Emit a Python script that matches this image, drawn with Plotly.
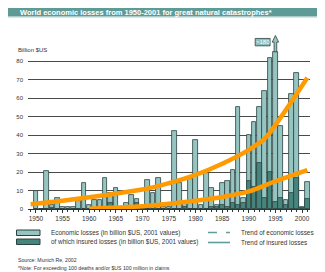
import plotly.graph_objects as go

# ---------------- data ----------------
years = list(range(1950, 2002))
economic = [10, 0, 20.7, 2.3, 6, 1, 1, 1, 4.3, 14,          # 1950-1959
            2.3, 5, 5, 17, 8.6, 11.5, 0, 3.2, 7.7, 5.6,      # 1960-1969
            1, 15.8, 8.6, 16.8, 1, 1, 42.3, 14, 4, 16,       # 1970-1979
            37.5, 2, 19.5, 11.3, 2, 14, 15, 21, 55, 6,       # 1980-1989
            40, 47, 55, 64, 81.6, 180, 45, 5, 62, 73.5,      # 1990-1999
            1, 14.6]                                         # 2000-2001
insured = [0, 0, 0, 0.5, 0, 0, 0, 0, 0, 0,
           0, 0, 0, 0, 3, 1, 0, 0, 0, 3,
           0, 0, 0, 0, 0, 0, 0, 0, 1, 0,
           0, 0, 0, 1, 1, 2, 1, 3, 2, 3,
           15, 12, 25, 6, 20, 4, 6, 2, 8.6, 17,
           0.5, 5.4]

trend_econ_years = [1949, 1955, 1960, 1965, 1970, 1975, 1980, 1985, 1990, 1993, 2001]
trend_econ = [2.6, 4.5, 6.3, 8.3, 10.5, 14, 18.5, 24.5, 32, 38, 71]
trend_ins_years = [1960, 1965, 1970, 1975, 1980, 1985, 1990, 1995, 2001]
trend_ins = [0.2, 0.8, 1.5, 2.8, 4.5, 6.5, 9.5, 15, 21]

y_ticks = [0, 10, 20, 30, 40, 50, 60, 70, 80]
x_ticks = [1950, 1955, 1960, 1965, 1970, 1975, 1980, 1985, 1990, 1995, 2000]
CAP = 85            # bars above this are clipped and marked with an arrow
OVER_LABEL = ">180"

# ---------------- styling ----------------
W, H = 325, 272
L, R, T, B = 20, 23, 20, 71
Y_TOP = (H - B - T) / 1.85
FONT = "Liberation Sans Narrow, Arial Narrow, Liberation Sans, sans-serif"
LIGHT = "#96c4c1"
DARK = "#46857e"
EDGE = "#2c4240"
ORANGE = "#ff9a00"
TEAL = "#5f9f9a"


def px(x):
    return (x - L) / (W - L - R)


def py(y):
    return (H - B - y) / (H - T - B)


econ_disp = [min(v, CAP) for v in economic]

fig = go.Figure()
fig.add_trace(go.Bar(x=years, y=econ_disp, width=0.86,
                     marker=dict(color=LIGHT, line=dict(color=EDGE, width=0.8)),
                     showlegend=False, hoverinfo="x+y"))
fig.add_trace(go.Bar(x=years, y=insured, width=0.86,
                     marker=dict(color=DARK, line=dict(color=EDGE, width=0.8)),
                     showlegend=False))
fig.add_trace(go.Scatter(x=trend_econ_years, y=trend_econ, mode="lines",
                         line=dict(color=ORANGE, width=4.5, shape="spline", smoothing=0.6),
                         showlegend=False))
fig.add_trace(go.Scatter(x=trend_ins_years, y=trend_ins, mode="lines",
                         line=dict(color=ORANGE, width=4.5, shape="spline", smoothing=0.6),
                         showlegend=False))

shapes = []
ann = []

# title band
shapes.append(dict(type="rect", xref="paper", yref="paper", x0=px(0), x1=px(W),
                   y0=py(0), y1=py(8.5), fillcolor="#5e9b97", line=dict(width=0), layer="above"))
shapes.append(dict(type="line", xref="paper", yref="paper", x0=px(0), x1=px(W),
                   y0=py(9), y1=py(9), line=dict(color="#a9cbc8", width=1)))
ann.append(dict(text="<b>World economic losses from 1950-2001 for great natural catastrophes*</b>",
                xref="paper", yref="paper", x=px(10), y=py(4.5), xanchor="left", yanchor="middle",
                showarrow=False, font=dict(family=FONT, size=7.5, color="white")))

# bottom rule
shapes.append(dict(type="line", xref="paper", yref="paper", x0=px(0), x1=px(W),
                   y0=py(269.5), y1=py(269.5), line=dict(color="#78a7a3", width=2.5)))

# axis unit label
ann.append(dict(text="Billion $US", xref="paper", yref="paper", x=px(8), y=py(42),
                xanchor="left", yanchor="middle", showarrow=False,
                font=dict(family=FONT, size=6, color="#333")))

# overflow arrow for the clipped bar
for yr, v in zip(years, economic):
    if v > CAP:
        hw = 0.25
        path = (f"M {yr - hw} {CAP} L {yr - hw} {CAP + 5.2} L {yr - 0.6} {CAP + 5.2} "
                f"L {yr} {CAP + 8.8} L {yr + 0.6} {CAP + 5.2} L {yr + hw} {CAP + 5.2} "
                f"L {yr + hw} {CAP} Z")
        shapes.append(dict(type="path", xref="x", yref="y", path=path,
                           fillcolor=LIGHT, line=dict(color=EDGE, width=0.8), layer="above"))
        shapes.append(dict(type="rect", xref="x", yref="y", x0=yr - 3.8, x1=yr - 1.0,
                           y0=CAP + 3.2, y1=CAP + 7.2, fillcolor="#8dbdba",
                           line=dict(color=EDGE, width=0.8)))
        ann.append(dict(text=OVER_LABEL, xref="x", yref="y", x=yr - 2.4, y=CAP + 5.2,
                        showarrow=False, font=dict(family=FONT, size=6, color="white")))

# legend (manual)
leg_font = dict(family=FONT, size=6.4, color="#333")
for (y0, y1, col, txt) in [(222, 227.5, LIGHT, "Economic losses (in billion $US, 2001 values)"),
                           (231, 236.5, DARK, "of which insured losses (in billion $US, 2001 values)")]:
    shapes.append(dict(type="rect", xref="paper", yref="paper", x0=px(8.5), x1=px(32),
                       y0=py(y1), y1=py(y0), fillcolor=col, line=dict(color=EDGE, width=1)))
    ann.append(dict(text=txt, xref="paper", yref="paper", x=px(41), y=py((y0 + y1) / 2),
                    xanchor="left", yanchor="middle", showarrow=False, font=leg_font))
for (yy, dash, txt) in [(224.5, "dash", "Trend of economic losses"),
                        (234.5, "solid", "Trend of insured losses")]:
    shapes.append(dict(type="line", xref="paper", yref="paper", x0=px(200), x1=px(222),
                       y0=py(yy), y1=py(yy), line=dict(color=TEAL, width=1.6, dash=dash)))
    ann.append(dict(text=txt, xref="paper", yref="paper", x=px(231), y=py(yy),
                    xanchor="left", yanchor="middle", showarrow=False, font=leg_font))

# source / note
ann.append(dict(text="Source: Munich Re, 2002", xref="paper", yref="paper", x=px(8), y=py(252),
                xanchor="left", yanchor="middle", showarrow=False,
                font=dict(family=FONT, size=5.2, color="#333")))
ann.append(dict(text="*Note: For exceeding 100 deaths and/or $US 100 million in claims",
                xref="paper", yref="paper", x=px(8), y=py(259.5),
                xanchor="left", yanchor="middle", showarrow=False,
                font=dict(family=FONT, size=5.2, color="#333")))

fig.update_layout(
    width=W, height=H, margin=dict(l=L, r=R, t=T, b=B, pad=0, autoexpand=False),
    paper_bgcolor="white", plot_bgcolor="white",
    barmode="overlay", bargap=0,
    shapes=shapes, annotations=ann,
    font=dict(family=FONT, size=6, color="#333"),
    xaxis=dict(range=[1948.5, 2001.5], tickvals=x_ticks, ticktext=[str(v) for v in x_ticks],
               showgrid=False, zeroline=False, showline=True, linecolor="#333", linewidth=1,
               ticks="outside", ticklen=3, tickcolor="#333", tickwidth=0.8,
               minor=dict(dtick=1, tick0=1950, ticks="outside", ticklen=2, tickcolor="#333"),
               tickfont=dict(family=FONT, size=6.5, color="#333"), fixedrange=True,
               automargin=False),
    yaxis=dict(range=[0, Y_TOP], tickvals=y_ticks, showgrid=True, gridcolor="#4a4a4a",
               gridwidth=1, zeroline=False, showline=False, ticks="",
               ticklabelstandoff=4, automargin=False,
               tickfont=dict(family=FONT, size=6, color="#333"), fixedrange=True),
)

fig.write_html("out.html")
